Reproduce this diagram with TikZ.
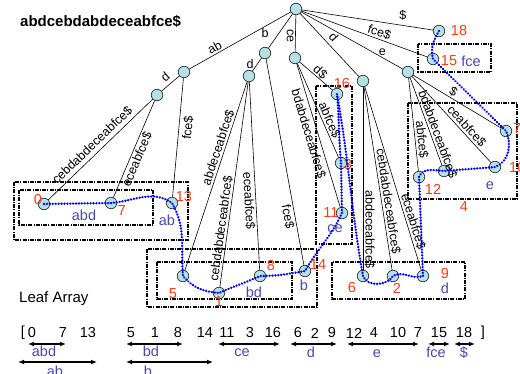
\documentclass[tikz,border=0pt]{standalone}
\usepackage{fontspec}
\setmainfont{Liberation Sans}
\usetikzlibrary{arrows.meta}
\definecolor{numred}{RGB}{255,60,20}
\definecolor{lblblue}{RGB}{72,72,176}
\definecolor{nodefill}{RGB}{180,225,228}
\definecolor{pathblue}{RGB}{0,0,255}
\begin{document}
\begin{tikzpicture}[x=1pt,y=1pt,
  tn/.style={circle,draw=black!80,line width=0.7pt,fill=nodefill,minimum size=11.5pt,inner sep=0pt},
  tedge/.style={draw=black,line width=0.6pt},
  el/.style={font=\fontsize{12.5}{13}\selectfont,inner sep=1.5pt},
  num/.style={text=numred,font=\fontsize{14.5}{15}\selectfont,inner sep=0pt},
  blbl/.style={text=lblblue,font=\fontsize{14.5}{15}\selectfont,inner sep=0pt},
  grp/.style={draw=black,line width=1.2pt,dash pattern=on 4pt off 1.2pt on 1pt off 1.2pt},
  trav/.style={draw=pathblue,line width=2.6pt,line cap=round,dash pattern=on 0.01pt off 2.9pt},
  arr/.style={{Latex[length=6pt,width=5pt]}-{Latex[length=6pt,width=5pt]},line width=1.3pt},
  arrnum/.style={font=\fontsize{14.5}{15}\selectfont,inner sep=0pt},
]
\useasboundingbox (0,0) rectangle (520,-374);

% title
\node[anchor=west,font=\bfseries\fontsize{15}{16}\selectfont,inner sep=0pt] (title) at (20,-21) {abdcebdabdeceabfce\$};

% group boxes
\draw[grp] (14,-182) rectangle (188,-240);
\draw[grp] (19,-190) rectangle (153,-225);
\draw[grp] (147,-249) rectangle (317,-307);
\draw[grp] (157,-262) rectangle (292,-299);
\draw[grp] (316,-86) rectangle (352,-244);
\draw[grp] (332,-262) rectangle (465,-299);
\draw[grp] (408,-103) rectangle (517,-199);
\draw[grp] (418,-44) rectangle (491,-72);

% tree nodes
\node[tn] (root) at (296,-9) {};
\node[tn] (nab) at (184,-72) {};
\node[tn] (nabd) at (157,-95) {};
\node[tn] (nb) at (265,-53) {};
\node[tn] (nbd) at (249,-76) {};
\node[tn] (nce) at (295,-58) {};
\node[tn] (nd) at (363,-81) {};
\node[tn] (ne) at (408,-72) {};
\node[tn] (l15) at (433,-59) {};
\node[tn] (l18) at (439,-31) {};
\node[tn] (l0) at (44,-204) {};
\node[tn] (l7a) at (111,-203) {};
\node[tn] (l13) at (172,-203) {};
\node[tn] (l5) at (183,-276) {};
\node[tn] (l1) at (219,-293) {};
\node[tn] (l8) at (260,-276) {};
\node[tn] (l14) at (305,-271) {};
\node[tn] (l16) at (337,-94) {};
\node[tn] (l3) at (341,-163) {};
\node[tn] (l11) at (342,-213) {};
\node[tn] (l6) at (363,-276) {};
\node[tn] (l2) at (393,-276) {};
\node[tn] (l9) at (423,-276) {};
\node[tn] (l12) at (419,-177) {};
\node[tn] (l4) at (444,-171) {};
\node[tn] (l10) at (495,-167) {};
\node[tn] (l7b) at (506,-131) {};

% edges
\draw[tedge] (root) -- (nab) node[el,sloped,above,pos=0.72] (eab) {ab};
\draw[tedge] (nab) -- (nabd) node[el,sloped,above=2pt,pos=0.5] (eabd) {d};
\draw[tedge] (nabd) -- (l0) node[el,sloped,above=2pt,pos=0.52] (e0) {cebdabdeceabfce\$};
\draw[tedge] (nabd) -- (l7a) node[el,sloped,below,pos=0.58] (e7a) {eceabfce\$};
\draw[tedge] (nab) -- (l13) node[el,sloped,below=2pt,pos=0.41] (e13) {fce\$};
\draw[tedge] (root) -- (nb) node[el,pos=0.55,left=9pt] (eb) {b};
\draw[tedge] (nb) -- (nbd) node[el,pos=0.45,left=2pt] (ebd) {d};
\draw[tedge] (nbd) -- (l5) node[el,sloped,above,pos=0.36] (e5) {abdeceabfce\$};
\draw[tedge] (nbd) -- (l1) node[el,sloped,above,pos=0.72] (e1) {cebdabdeceabfce\$};
\draw[tedge] (nbd) -- (l8) node[el,sloped,below,pos=0.63] (e8) {eceabfce\$};
\draw[tedge] (nb) -- (l14) node[el,sloped,below,pos=0.76] (e14) {fce\$};
\draw[tedge] (root) -- (nce) node[el,rotate=-90,below,pos=0.57] (ece) {ce};
\draw[tedge] (root) -- (nd) node[el,sloped,above=2pt,pos=0.47] (ed) {d};
\draw[tedge] (root) -- (ne) node[el,above=0pt,pos=0.8] (ee) {e};
\draw[tedge] (root) -- (l15) node[el,sloped,above,pos=0.6] (e15) {fce\$};
\draw[tedge] (root) -- (l18) node[el,above=3pt,pos=0.77] (e18) {\$};
\draw[tedge] (nce) -- (l16) node[el,sloped,above=-1pt,pos=0.52] (e16) {d\$};
\draw[tedge] (nce) -- (l3) node[el,sloped,above,pos=0.63] (e3) {abfce\$};
\draw[tedge] (nce) -- (l11) node[el,sloped,below=2pt,pos=0.47] (e11) {bdabdeceabfce\$};
\draw[tedge] (nd) -- (l6) node[el,rotate=-90,above,pos=0.78] (e6) {abdeceabfce\$};
\draw[tedge] (nd) -- (l2) node[el,sloped,above,pos=0.63] (e2) {cebdabdeceabfce\$};
\draw[tedge] (nd) -- (l9) node[el,sloped,above,pos=0.745] (e9) {eceabfce\$};
\draw[tedge] (ne) -- (l12) node[el,sloped,above,pos=0.67] (e12) {abfce\$};
\draw[tedge] (ne) -- (l4) node[el,sloped,above,pos=0.67] (e4) {bdabdeceabfce\$};
\draw[tedge] (ne) -- (l10) node[el,sloped,above,pos=0.63] (e10) {ceabfce\$};
\draw[tedge] (ne) -- (l7b) node[el,sloped,above,pos=0.42] (e7b) {\$};

% leaf numbers
\node[num] (n0) at (38,-200) {0};
\node[num] (n7a) at (122,-211) {7};
\node[num] (n13) at (184,-197) {13};
\node[num] (n5) at (173,-294) {5};
\node[num] (n1) at (219,-302) {1};
\node[num] (n8) at (271,-266) {8};
\node[num] (n14) at (318,-265) {14};
\node[num] (n16) at (342,-84) {16};
\node[num] (n3) at (348,-165) {3};
\node[num] (n11) at (331,-213) {11};
\node[num] (n6) at (352,-288) {6};
\node[num] (n2) at (397,-288) {2};
\node[num] (n9) at (445,-274) {9};
\node[num] (n12) at (433,-189) {12};
\node[num] (n4) at (464,-207) {4};
\node[num,anchor=west] (n10) at (509,-168) {10};
\node[num,anchor=west] (n7b) at (513,-129) {7};
\node[num] (n15) at (449,-61) {15};
\node[num] (n18) at (459,-31) {18};

% blue group labels
\node[blbl] (babd) at (84,-215) {abd};
\node[blbl] (bab) at (167,-220) {ab};
\node[blbl] (bbd) at (254,-292) {bd};
\node[blbl] (bbb) at (304,-285) {b};
\node[blbl] (bce) at (335,-229) {ce};
\node[blbl] (bdd) at (445,-288) {d};
\node[blbl] (bee) at (490,-186) {e};
\node[blbl] (bfce) at (471,-61) {fce};

% traversal path
\draw[trav] (l18.center) to[out=-120,in=105] (l15.center)
  to[out=-45,in=135] (l7b.center)
  to[out=-65,in=20] (l10.center)
  to[out=185,in=5] (l4.center)
  to[out=175,in=70] (l12.center)
  -- (l9.center)
  to[out=-160,in=30] (l2.center)
  to[out=-120,in=-70] (l6.center)
  to[out=100,in=-80] (l16.center)
  to[out=-85,in=95] (l3.center)
  -- (l11.center)
  to[out=-115,in=60] (l14.center)
  to[out=190,in=0] (l8.center)
  to[out=-155,in=25] (l1.center)
  to[out=175,in=-50] (l5.center)
  to[out=95,in=-60] (l13.center)
  to[out=145,in=5] (l7a.center)
  -- (l0.center);

% leaf array
\node[anchor=west,font=\fontsize{15}{16}\selectfont,inner sep=0pt] (leafarr) at (19,-299) {Leaf Array};
\node[arrnum] (lbrk) at (23,-333) {[};
\node[arrnum] (rbrk) at (483,-333) {]};
\foreach \x/\t [count=\i] in {32/0,63/7,88/13,131/5,155/1,178/8,205/14,227/11,250/3,273/16,298/6,315/2,332/9,354/12,374/4,398/10,418/7,439/15,464/18}
  \node[arrnum] (la\i) at (\x,-333) {\t};

\coordinate (a1L) at (28,-344); \coordinate (a1R) at (66,-344);
\coordinate (a2L) at (18,-362); \coordinate (a2R) at (97,-362);
\coordinate (a3L) at (126,-344); \coordinate (a3R) at (183,-344);
\coordinate (a4L) at (126,-362); \coordinate (a4R) at (213,-362);
\coordinate (a5L) at (218,-344); \coordinate (a5R) at (280,-344);
\coordinate (a6L) at (290,-344); \coordinate (a6R) at (337,-344);
\coordinate (a7L) at (347,-344); \coordinate (a7R) at (419,-344);
\coordinate (a8L) at (428,-344); \coordinate (a8R) at (450,-344);
\coordinate (a9L) at (454,-344); \coordinate (a9R) at (475,-344);
\draw[arr] (a1L) -- (a1R);
\draw[arr] (a2L) -- (a2R);
\draw[arr] (a3L) -- (a3R);
\draw[arr] (a4L) -- (a4R);
\draw[arr] (a5L) -- (a5R);
\draw[arr] (a6L) -- (a6R);
\draw[arr] (a7L) -- (a7R);
\draw[arr] (a8L) -- (a8R);
\draw[arr] (a9L) -- (a9R);
\node[blbl,anchor=base] (tabd) at (44,-357) {abd};
\node[blbl,anchor=base] (tab) at (55,-377) {ab};
\node[blbl,anchor=base] (tbd) at (151,-357) {bd};
\node[blbl,anchor=base] (tb) at (148,-377) {b};
\node[blbl,anchor=base] (tce) at (242,-357) {ce};
\node[blbl,anchor=base] (td) at (311,-358) {d};
\node[blbl,anchor=base] (te) at (377,-358) {e};
\node[blbl,anchor=base] (tfce) at (436,-358) {fce};
\node[blbl,anchor=base] (tdol) at (464,-358) {\$};
\end{tikzpicture}
\end{document}
